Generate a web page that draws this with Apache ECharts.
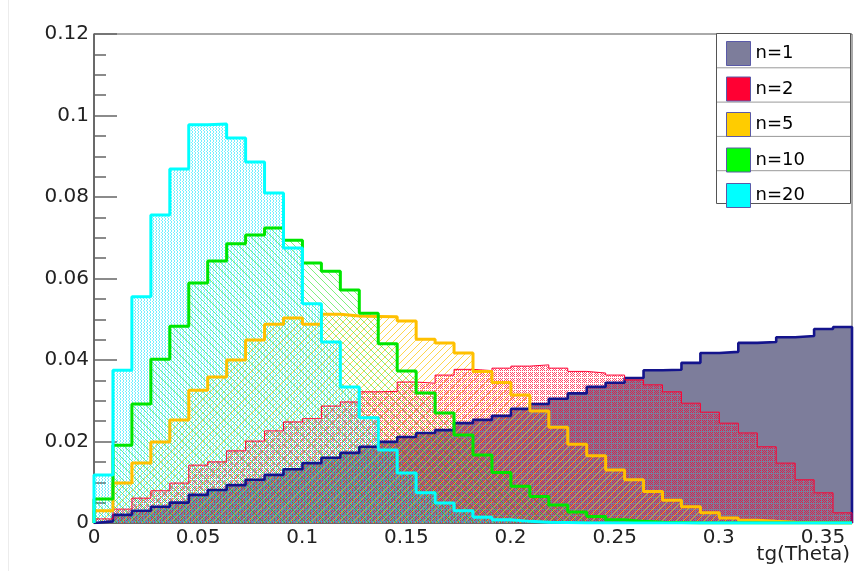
<!DOCTYPE html>
<html>
<head>
<meta charset="utf-8">
<title>tg(Theta)</title>
<script src="https://cdn.jsdelivr.net/npm/echarts@6/dist/echarts.min.js"></script>
<style>
  html, body { margin: 0; padding: 0; background: #fff; }
  #chart { width: 865px; height: 571px; }
</style>
</head>
<body>
<div id="chart"></div>
<script>
// histogram range: 0 .. tan(20 deg), 40 bins
const X_MAX = 0.36397;
const N_BINS = 40;

const seriesNames = ['n=1', 'n=2', 'n=5', 'n=10', 'n=20'];
const xTickLabels = ['0', '0.05', '0.1', '0.15', '0.2', '0.25', '0.3', '0.35'];
const yTickLabels = ['0', '0.02', '0.04', '0.06', '0.08', '0.1', '0.12'];
const xTitle = 'tg(Theta)';

// bin contents
const n1 = [0.0004, 0.002, 0.003, 0.004, 0.005, 0.0069, 0.0081, 0.0093, 0.0106, 0.0118,
  0.0132, 0.0147, 0.016, 0.0172, 0.0187, 0.0199, 0.0211, 0.0221, 0.0228, 0.0245,
  0.0253, 0.0263, 0.028, 0.0292, 0.0305, 0.0318, 0.0334, 0.0344, 0.0356, 0.0375,
  0.0376, 0.0393, 0.0417, 0.042, 0.0442, 0.0444, 0.0456, 0.0459, 0.0476, 0.0481];
const n2 = [0.001, 0.0034, 0.0061, 0.0079, 0.0098, 0.0142, 0.015, 0.0177, 0.0201, 0.0226,
  0.0248, 0.0256, 0.0287, 0.0297, 0.0322, 0.0323, 0.0346, 0.0343, 0.0363, 0.0377,
  0.0374, 0.038, 0.0385, 0.0388, 0.038, 0.0372, 0.0368, 0.0363, 0.0351, 0.0339,
  0.0322, 0.0294, 0.0272, 0.0245, 0.0221, 0.0187, 0.0147, 0.0106, 0.0074, 0.0025];
const n5 = [0.003, 0.0098, 0.0147, 0.0199, 0.0253, 0.0326, 0.0358, 0.040, 0.0449, 0.0488,
  0.0503, 0.0488, 0.0512, 0.0508, 0.0507, 0.0506, 0.0496, 0.0451, 0.0442, 0.0417,
  0.0372, 0.0345, 0.0314, 0.0275, 0.0235, 0.0193, 0.0165, 0.013, 0.0106, 0.0077,
  0.0056, 0.004, 0.0025, 0.0012, 0.0007, 0.0004, 0.0002, 0.0001, 0, 0];
const n10 = [0.0059, 0.0191, 0.0292, 0.0402, 0.0483, 0.0589, 0.0643, 0.0685, 0.0707, 0.0724,
  0.0694, 0.0638, 0.0618, 0.0572, 0.0515, 0.044, 0.0373, 0.0319, 0.027, 0.0216,
  0.0167, 0.0124, 0.009, 0.0065, 0.0044, 0.0027, 0.0016, 0.0008, 0.0004, 0.0002,
  0.0001, 0, 0, 0, 0, 0, 0, 0, 0, 0];
const n20 = [0.0118, 0.0375, 0.0555, 0.0756, 0.0869, 0.0977, 0.0979, 0.0945, 0.0886, 0.081,
  0.0675, 0.0538, 0.0444, 0.0334, 0.0258, 0.0179, 0.0123, 0.0074, 0.0049, 0.003,
  0.0014, 0.0008, 0.0004, 0.0002, 0.0001, 0, 0, 0, 0, 0,
  0, 0, 0, 0, 0, 0, 0, 0, 0, 0];

const lineColors = ['#14148c', '#ff0033', '#ffc000', '#00e600', '#00ffff'];
const swatchColors = ['#7d7d9b', '#ff0033', '#ffcc00', '#00ff00', '#00ffff'];

const FONT = 'DejaVu Sans';
const binW = X_MAX / N_BINS;

// step outline points (left edge of each bin), closed down to 0 at both ends
function toSteps(vals) {
  const pts = [[0, 0]];
  vals.forEach((v, i) => pts.push([i * binW, v]));
  pts.push([N_BINS * binW, vals[vals.length - 1]]);
  pts.push([N_BINS * binW, 0]);
  return pts;
}

// ROOT-like fill patterns
function makePattern(size, draw) {
  const c = document.createElement('canvas');
  c.width = size;
  c.height = size;
  const ctx = c.getContext('2d');
  draw(ctx, size);
  return { image: c, repeat: 'repeat' };
}

const redDots = makePattern(6, (ctx) => {
  ctx.fillStyle = 'rgba(255,0,45,0.7)';
  for (let y = 0; y < 5; y++) {
    for (let x = 0; x < 5; x++) {
      if ((x + y) % 2 === 0) ctx.fillRect(x, y, 1, 1);
    }
  }
});

function hatch(color, dir) {
  return makePattern(7, (ctx, s) => {
    ctx.strokeStyle = color;
    ctx.lineWidth = 1;
    ctx.beginPath();
    for (let k = -1; k <= 1; k++) {
      if (dir > 0) {
        ctx.moveTo(k * s, s);
        ctx.lineTo(k * s + s, 0);
      } else {
        ctx.moveTo(k * s, 0);
        ctx.lineTo(k * s + s, s);
      }
    }
    ctx.stroke();
  });
}

// sparse vertical dots
const cyanDots = makePattern(3, (ctx) => {
  ctx.fillStyle = 'rgba(0,225,255,0.55)';
  ctx.fillRect(0, 0, 1, 1);
  ctx.fillRect(0, 2, 1, 1);
  ctx.fillRect(2, 1, 1, 1);
});

const fills = [
  '#7d7d9b',
  redDots,
  hatch('rgba(255,195,0,0.7)', 1),
  hatch('rgba(0,225,0,0.5)', -1),
  cyanDots
];
const lineWidths = [2.6, 1, 3, 3, 3];
const datasets = [n1, n2, n5, n10, n20];

const chart = echarts.init(document.getElementById('chart'));

const option = {
  animation: false,
  backgroundColor: '#fff',
  grid: {
    left: 94,
    top: 34,
    right: 13,
    bottom: 48,
    containLabel: false,
    outerBoundsMode: 'none',
    show: true,
    borderColor: '#555',
    borderWidth: 1
  },
  legend: {
    orient: 'vertical',
    left: 721,
    top: 36,
    z: 10,
    icon: 'rect',
    itemWidth: 24,
    itemHeight: 24,
    itemGap: 10.5,
    selectedMode: false,
    textStyle: { fontFamily: FONT, fontSize: 18, color: '#000' },
    data: seriesNames.map((name, i) => ({
      name,
      itemStyle: { color: swatchColors[i], borderColor: '#5a5aa8', borderWidth: 1 }
    }))
  },
  graphic: [
    // legend box with row separators
    {
      type: 'rect',
      z: 5,
      shape: { x: 716.5, y: 33.5, width: 134, height: 170 },
      style: { fill: '#fff', stroke: '#555', lineWidth: 1 }
    },
    ...[1, 2, 3, 4].map((k) => ({
      type: 'line',
      z: 6,
      shape: { x1: 717, y1: 33.5 + k * 34.3, x2: 850, y2: 33.5 + k * 34.3 },
      style: { stroke: '#999', lineWidth: 1 }
    })),
    // x axis title, right aligned under the axis end
    {
      type: 'text',
      right: 15,
      top: 545,
      z: 10,
      style: { text: xTitle, font: '20px "DejaVu Sans"', fill: '#222' }
    },
    // faint outer frame line on the left
    {
      type: 'line',
      shape: { x1: 8.5, y1: 0, x2: 8.5, y2: 571 },
      style: { stroke: '#ececec', lineWidth: 1 }
    }
  ],
  xAxis: {
    type: 'value',
    min: 0,
    max: X_MAX,
    interval: 0.05,
    splitLine: { show: false },
    axisLine: { lineStyle: { color: '#555', width: 1.5 } },
    axisTick: { inside: true, length: 15, lineStyle: { color: '#222', width: 1 } },
    minorTick: { show: true, splitNumber: 5, length: 8, lineStyle: { color: '#222', width: 1 } },
    axisLabel: {
      fontFamily: FONT, fontSize: 20, color: '#222', margin: 5,
      showMaxLabel: false,
      formatter: (v) => {
        const i = Math.round(v / 0.05);
        return Math.abs(v - i * 0.05) < 1e-6 && xTickLabels[i] !== undefined ? xTickLabels[i] : '';
      }
    }
  },
  yAxis: {
    type: 'value',
    min: 0,
    max: 0.12,
    interval: 0.02,
    splitLine: { show: false },
    axisLine: { show: true, lineStyle: { color: '#555', width: 1.5 } },
    axisTick: { show: true, inside: true, length: 23, lineStyle: { color: '#666', width: 1.5 } },
    minorTick: { show: true, splitNumber: 4, length: 12, lineStyle: { color: '#666', width: 1.5 } },
    axisLabel: {
      fontFamily: FONT, fontSize: 20, color: '#222', margin: 5,
      formatter: (v) => yTickLabels[Math.round(v / 0.02)] || ''
    }
  },
  series: datasets.map((vals, i) => ({
    name: seriesNames[i],
    type: 'line',
    step: 'end',
    symbol: 'none',
    silent: true,
    data: toSteps(vals),
    itemStyle: { color: lineColors[i] },
    lineStyle: { color: lineColors[i], width: lineWidths[i] },
    areaStyle: { color: fills[i], opacity: 1 }
  }))
};

chart.setOption(option);
</script>
</body>
</html>
